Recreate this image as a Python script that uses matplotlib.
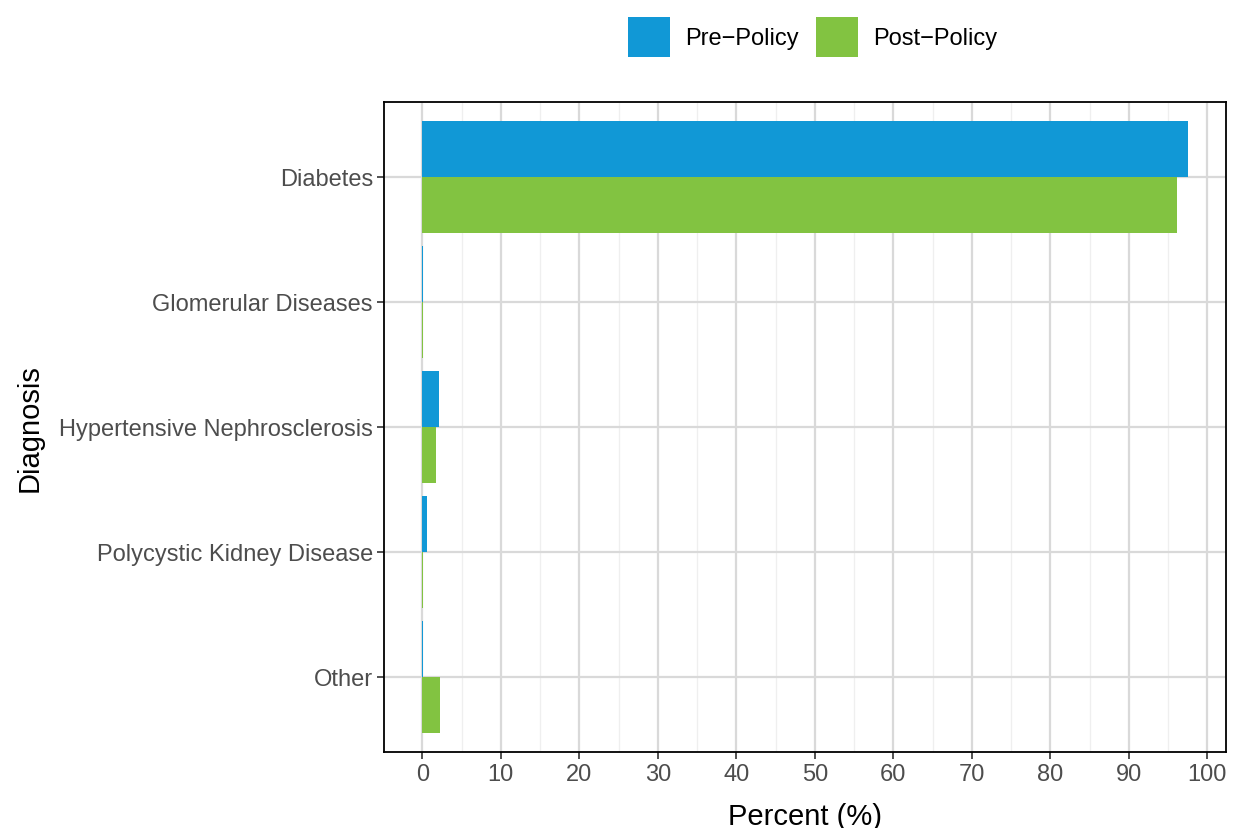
import matplotlib.pyplot as plt
import numpy as np
from matplotlib.patches import Patch

plt.rcParams['font.family'] = ['Liberation Sans', 'DejaVu Sans']

# data (percent of cases by primary diagnosis)
diagnoses = ["Diabetes", "Glomerular Diseases", "Hypertensive Nephrosclerosis",
             "Polycystic Kidney Disease", "Other"]
pre_policy = [97.5, 0.08, 2.15, 0.62, 0.08]
post_policy = [96.1, 0.08, 1.78, 0.08, 2.3]
series_labels = ["Pre\u2212Policy", "Post\u2212Policy"]
colors = ["#1198D6", "#82C341"]

fig = plt.figure(figsize=(12.33, 8.29), dpi=100)
ax = fig.add_axes([384 / 1233, 1 - 753 / 829, (1226 - 384) / 1233, (753 - 103) / 829])

y = np.arange(len(diagnoses))[::-1]
h = 0.45
ax.barh(y + h / 2, pre_policy, height=h, color=colors[0], zorder=3)
ax.barh(y - h / 2, post_policy, height=h, color=colors[1], zorder=3)

ax.set_yticks(y)
ax.set_yticklabels(diagnoses)
ax.set_ylim(-0.6, len(diagnoses) - 0.4)
ax.set_xlim(-4.875, 102.375)
ax.set_xticks(np.arange(0, 101, 10))
ax.set_xticks(np.arange(5, 100, 10), minor=True)

ax.grid(True, which='major', color='#D9D9D9', linewidth=1.6, zorder=0)
ax.grid(True, which='minor', axis='x', color='#EFEFEF', linewidth=0.9, zorder=0)
ax.tick_params(axis='both', which='major', labelsize=17, labelcolor='#4D4D4D',
               color='#333333', length=5, width=1.2, pad=3)
ax.tick_params(axis='x', which='minor', length=0)
for s in ax.spines.values():
    s.set_color('black')
    s.set_linewidth(1.3)

ax.set_xlabel("Percent (%)", fontsize=21, labelpad=12)
ax.set_ylabel("Diagnosis", fontsize=21, labelpad=11)

handles = [Patch(facecolor=c, label=l) for c, l in zip(colors, series_labels)]
fig.legend(handles=handles, loc='upper center', bbox_to_anchor=(0.659, 1.0),
           ncol=2, frameon=False, fontsize=17, handlelength=1.8, handleheight=2.25,
           columnspacing=0.7, handletextpad=0.65, borderaxespad=0.35)

fig.savefig("out.png", dpi=100)
